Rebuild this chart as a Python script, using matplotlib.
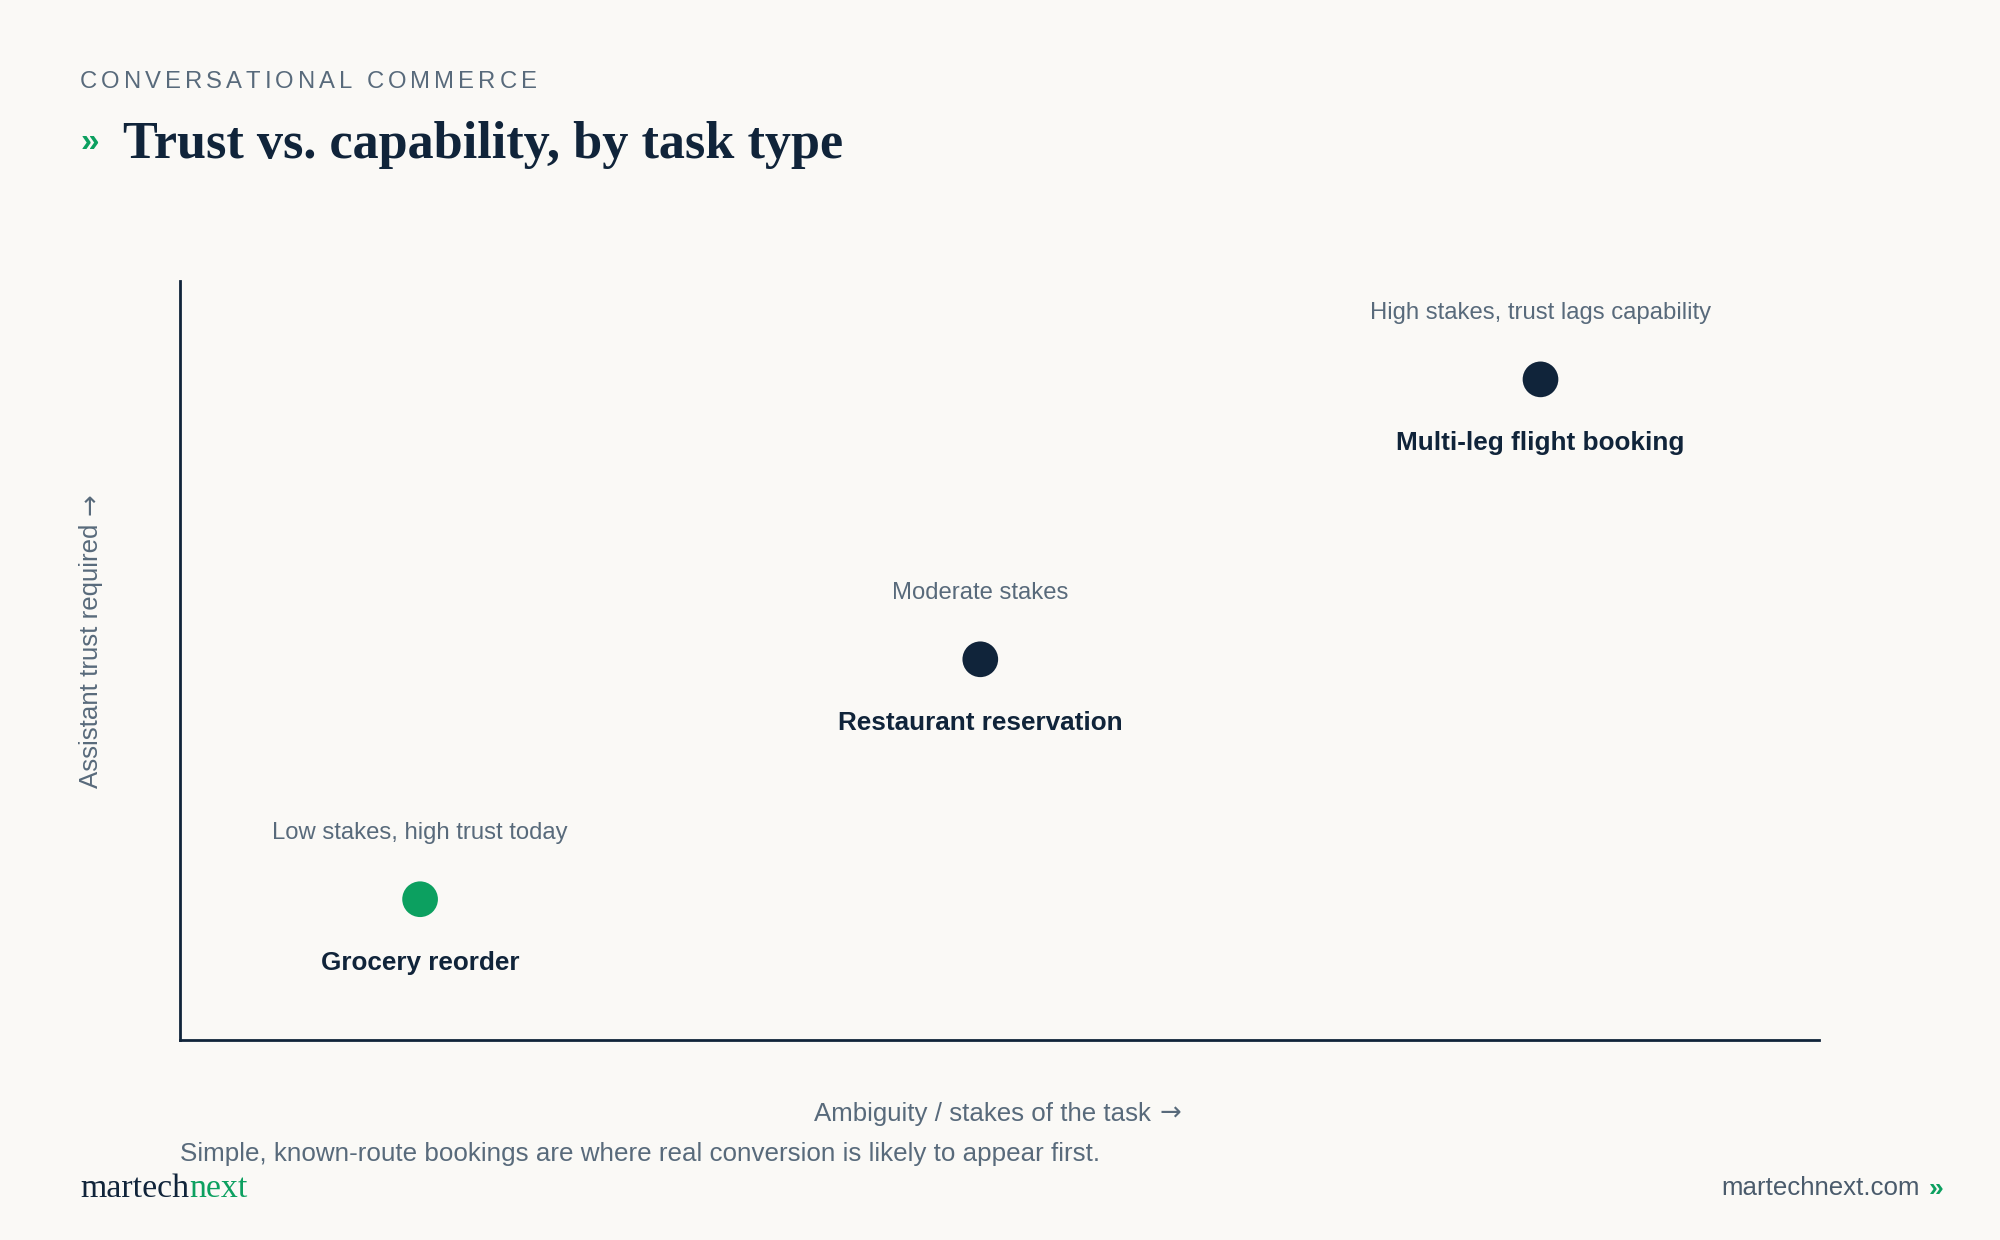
import matplotlib
matplotlib.use("Agg")
import matplotlib.pyplot as plt

# chart data
tasks = ["Grocery reorder", "Restaurant reservation", "Multi-leg flight booking"]
notes = ["Low stakes, high trust today", "Moderate stakes", "High stakes, trust lags capability"]
stakes = [15, 50, 85]      # ambiguity / stakes of the task
trust = [20, 50, 85]       # assistant trust required
highlight = [True, False, False]

eyebrow = "CONVERSATIONAL COMMERCE"
title = "Trust vs. capability, by task type"
x_label = "Ambiguity / stakes of the task"
y_label = "Assistant trust required"
footnote = "Simple, known-route bookings are where real conversion is likely to appear first."

BG = "#faf9f6"
NAVY = "#10243a"
GREEN = "#0ca060"
GRAY = "#586a7b"
SANS = ["Liberation Sans", "DejaVu Sans"]
SERIF = ["Liberation Serif", "DejaVu Serif"]
ARROW = "\u2192"

W, H = 2000, 1240
fig = plt.figure(figsize=(10, 6.2), dpi=200, facecolor=BG)
renderer = fig.canvas.get_renderer()


def fx(px):
    return px / W


def fy(py):
    return 1 - py / H


def tracked(x_px, y_px, s, target_w, **kw):
    """Draw text letter by letter so it spans target_w pixels."""
    widths = []
    for ch in s:
        a = fig.text(0, 0, "I" + ch + "I", **kw)
        b = fig.text(0, 0, "II", **kw)
        widths.append(a.get_window_extent(renderer).width - b.get_window_extent(renderer).width)
        a.remove()
        b.remove()
    gap = (target_w - sum(widths)) / (len(s) - 1)
    x = x_px
    for ch, w in zip(s, widths):
        fig.text(fx(x), fy(y_px), ch, ha="left", va="center", **kw)
        x += w + gap


def arrow_label(x_px, y_px, s, vertical=False, gap=9, **kw):
    """Axis label followed by a long arrow (x_px, y_px = start of label)."""
    if vertical:
        t = fig.text(fx(x_px), fy(y_px), s, rotation=90, ha="center", va="bottom",
                     family=SANS, **kw)
        length = t.get_window_extent(renderer).height
        fig.text(fx(x_px), fy(y_px - length - gap), ARROW, rotation=90,
                 ha="center", va="bottom", family=["DejaVu Sans"], **kw)
    else:
        t = fig.text(fx(x_px), fy(y_px), s, ha="left", va="center", family=SANS, **kw)
        length = t.get_window_extent(renderer).width
        fig.text(fx(x_px + length + gap), fy(y_px), ARROW, ha="left", va="center",
                 family=["DejaVu Sans"], **kw)


ax = fig.add_axes([0.09, 0.1613, 0.8195, 0.6121])
ax.set_facecolor(BG)
ax.set_xlim(0, 102.4)
ax.set_ylim(2.4, 97.3)
for side in ["top", "right"]:
    ax.spines[side].set_visible(False)
for side in ["left", "bottom"]:
    ax.spines[side].set_color(NAVY)
    ax.spines[side].set_linewidth(1.0)
ax.set_xticks([])
ax.set_yticks([])

colors = [GREEN if h else NAVY for h in highlight]
ax.scatter(stakes, trust, s=165, c=colors, edgecolors="none", zorder=3)

for name, note, x, y in zip(tasks, notes, stakes, trust):
    ax.annotate(note, (x, y), xytext=(0, 24), textcoords="offset points",
                ha="center", va="center", fontsize=8.6, color=GRAY, family=SANS)
    ax.annotate(name, (x, y), xytext=(0, -22.8), textcoords="offset points",
                ha="center", va="center", fontsize=9.4, color=NAVY,
                fontweight="bold", family=SANS)

# axis labels
arrow_label(814, 1114, x_label, fontsize=9.3, color=GRAY)
arrow_label(91, 788, y_label, vertical=True, fontsize=9.3, color=GRAY)

# header
tracked(80, 82, eyebrow, 457, fontsize=8.6, color=GRAY, family=SANS)
fig.text(fx(81), fy(151), "\u00bb", ha="left", va="baseline", fontsize=12,
         color=GREEN, fontweight="bold", family=SANS)
fig.text(fx(123), fy(158), title, ha="left", va="baseline", fontsize=18.8,
         color=NAVY, fontweight="bold", family=SERIF)

# footer
fig.text(fx(180), fy(1154), footnote, ha="left", va="center",
         fontsize=9.35, color=GRAY, family=SANS)
logo = fig.text(fx(80), fy(1189), "martech", ha="left", va="center",
                fontsize=12.2, color=NAVY, family=SERIF)
bb = logo.get_window_extent(renderer)
fig.text(bb.x1 / W, fy(1189), "next", ha="left", va="center",
         fontsize=12.2, color=GREEN, family=SERIF)
fig.text(fx(1943), fy(1189), "\u00bb", ha="right", va="center", fontsize=9.5,
         color=GREEN, fontweight="bold", family=SANS)
fig.text(fx(1920), fy(1188), "martechnext.com", ha="right", va="center",
         fontsize=9.3, color="#4a5b6c", family=SANS)

fig.savefig("out.png", dpi=200, facecolor=BG)
